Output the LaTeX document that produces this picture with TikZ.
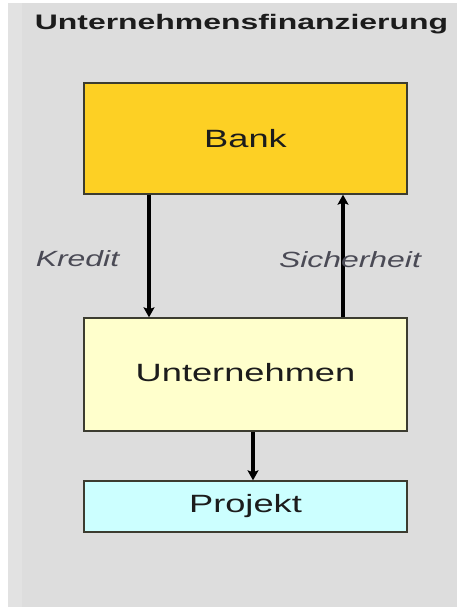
\documentclass[tikz,border=0pt]{standalone}
\usepackage{fontspec}
\setmainfont{Liberation Sans}
\usetikzlibrary{arrows.meta}
\definecolor{bggray}{HTML}{DDDDDD}
\definecolor{bankfill}{HTML}{FDD024}
\definecolor{untfill}{HTML}{FFFFCC}
\definecolor{projfill}{HTML}{CCFFFF}
\definecolor{boxline}{HTML}{3C3C30}
\definecolor{labgray}{HTML}{4A4A55}
\definecolor{txtdark}{HTML}{1C1C1C}
\tikzset{
  box/.style={draw=boxline, line width=1.4pt, minimum width=323pt, inner sep=0pt, text=txtdark,
    font=\fontsize{25}{30}\selectfont},
  arr/.style={draw=black, line width=3.5pt, -{Stealth[length=10pt,width=11pt,inset=2pt]}},
  lab/.style={text=labgray, font=\fontsize{22}{26}\selectfont\itshape, anchor=base, inner sep=0pt},
}
\newcommand{\wide}[1]{\scalebox{1.45}[1]{#1}}
\begin{document}
\begin{tikzpicture}[x=1pt,y=-1pt]
\useasboundingbox (0,0) rectangle (460,607);
\fill[white] (0,0) rectangle (460,607);
\fill[bggray] (8,3) rectangle (457,607);
\fill[bggray!85!white] (8,3) rectangle (22,607);
\node[anchor=base, inner sep=0pt, text=txtdark, font=\fontsize{21}{25}\selectfont\bfseries] (title) at (241.5,30) {\scalebox{1.52}[1]{Unternehmensfinanzierung}};
\node[box, fill=bankfill, minimum height=111pt] (bank) at (245.5,138.5) {\wide{Bank}};
\node[box, fill=untfill, minimum height=113pt] (unt) at (245.5,374.5) {\raisebox{5pt}{\wide{Unternehmen}}};
\node[box, fill=projfill, minimum height=51pt] (proj) at (245.5,506.5) {\wide{Projekt}};
\coordinate (kx) at (149,0);
\coordinate (sx) at (343,0);
\coordinate (px) at (253,0);
\draw[arr] (bank.south -| kx) -- (unt.north -| kx);
\draw[arr] (unt.north -| sx) -- (bank.south -| sx);
\draw[arr] (unt.south -| px) -- (proj.north -| px);
\node[lab] (kredit) at (77.5,266) {\wide{Kredit}};
\node[lab] (sicher) at (350,267) {\wide{Sicherheit}};
\end{tikzpicture}
\end{document}
